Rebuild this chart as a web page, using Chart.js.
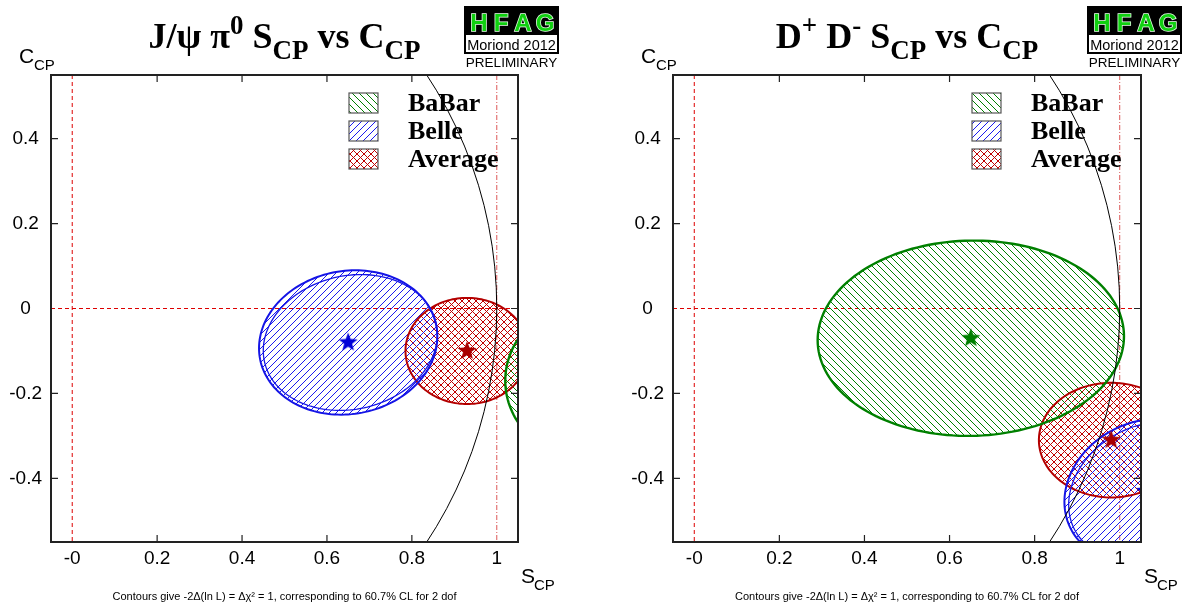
<!DOCTYPE html>
<html>
<head>
<meta charset="utf-8">
<script src="https://cdn.jsdelivr.net/npm/chart.js@4.4.0/dist/chart.umd.min.js"></script>
<style>
  html, body { margin: 0; padding: 0; background: #fff; }
  #wrap { position: relative; width: 1184px; height: 607px; }
  .panel { position: absolute; top: 0; width: 592px; height: 607px; }
</style>
</head>
<body>
<div id="wrap">
  <div class="panel" style="left:0"><canvas id="c1" width="592" height="607"></canvas></div>
  <div class="panel" style="left:592px"><canvas id="c2" width="592" height="607"></canvas></div>
</div>
<script>
// experiments, in legend order
const expNames = ["BaBar", "Belle", "Average"];

// J/psi pi0 : S, C, errors, correlation
const jpsiS    = [1.23, 0.65, 0.93];
const jpsiSErr = [0.21, 0.21, 0.145];
const jpsiC    = [-0.17, -0.08, -0.10];
const jpsiCErr = [0.19, 0.17, 0.125];
const jpsiRho  = [0.0, 0.08, 0.0];
// second (inner) Belle contour: S, C, SErr, CErr, rho
const jpsiBelleInner = [0.655, -0.08, 0.205, 0.16, 0.12];

// D+ D- : S, C, errors, correlation
const ddS    = [0.65, 1.06, 0.98];
const ddSErr = [0.36, 0.19, 0.17];
const ddC    = [-0.07, -0.43, -0.31];
const ddCErr = [0.23, 0.17, 0.135];
const ddRho  = [0.02, 0.15, 0.0];
const ddBelleInner = [1.065, -0.43, 0.185, 0.163, 0.2];

// axes
const xTicks = [0, 0.2, 0.4, 0.6, 0.8, 1];
const xTickLabels = ["-0", "0.2", "0.4", "0.6", "0.8", "1"];
const yTicks = [-0.4, -0.2, 0, 0.2, 0.4];
const yTickLabels = ["-0.4", "-0.2", "0", "0.2", "0.4"];
const refS = [0, 1];
const refC = [0];

const footNote = "Contours give -2\u0394(ln L) = \u0394\u03c7\u00b2 = 1, corresponding to 60.7% CL for 2 dof";
// title pieces: [text, 0 normal / -1 superscript / 1 subscript]
const title1 = [["J/\u03c8 \u03c0", 0], ["0", -1], [" S", 0], ["CP", 1], [" vs C", 0], ["CP", 1]];
const title2 = [["D", 0], ["+", -1], [" D", 0], ["-", -1], [" S", 0], ["CP", 1], [" vs C", 0], ["CP", 1]];

const lineColors = ["#008000", "#1414e6", "#b40000"];
const starColors = ["#008000", "#0000d8", "#a80000"];
const SANS = '"Liberation Sans", Arial, sans-serif';
const SERIF = '"Liberation Serif", "Times New Roman", serif';

// hatch patterns
function hatchCanvas(color, kind, s) {
  const c = document.createElement("canvas");
  c.width = c.height = s;
  const g = c.getContext("2d");
  g.strokeStyle = color;
  g.lineWidth = 1;
  const seg = (x1, y1, x2, y2) => { g.beginPath(); g.moveTo(x1, y1); g.lineTo(x2, y2); g.stroke(); };
  if (kind === "back" || kind === "cross")
    for (let k = -1; k <= 1; k++) seg(k * s - 1, -1, k * s + s + 1, s + 1);
  if (kind === "fwd" || kind === "cross")
    for (let k = 0; k <= 2; k++) seg(k * s + 1, -1, k * s - s - 1, s + 1);
  return c;
}
const hatchKinds = ["back", "fwd", "cross"];
const hatchColors = ["#008000", "#1a1aee", "#c00000"];
const hatchTiles = hatchKinds.map((k, i) => hatchCanvas(hatchColors[i], k, 7));

// filled star markers
function starImage(color, r) {
  const c = document.createElement("canvas");
  c.width = c.height = 2 * r + 2;
  const g = c.getContext("2d");
  g.fillStyle = color;
  g.beginPath();
  for (let i = 0; i < 10; i++) {
    const a = -Math.PI / 2 + i * Math.PI / 5;
    const rr = i % 2 ? r * 0.42 : r;
    const px = r + 1 + rr * Math.cos(a), py = r + 1 + rr * Math.sin(a);
    i ? g.lineTo(px, py) : g.moveTo(px, py);
  }
  g.closePath();
  g.fill();
  return c;
}
const starImgs = starColors.map(c => starImage(c, 10));

function ellipsePath(ctx, xs, ys, cx, cy, sx, sy, rho) {
  ctx.beginPath();
  const n = 160;
  for (let i = 0; i <= n; i++) {
    const t = i / n * 2 * Math.PI;
    const vx = cx + sx * Math.cos(t);
    const vy = cy + sy * (rho * Math.cos(t) + Math.sqrt(1 - rho * rho) * Math.sin(t));
    const px = xs.getPixelForValue(vx), py = ys.getPixelForValue(vy);
    i ? ctx.lineTo(px, py) : ctx.moveTo(px, py);
  }
  ctx.closePath();
}

function drawRich(ctx, parts, cx, base, size) {
  const fonts = { 0: `bold ${size}px ${SERIF}`, 1: `bold ${Math.round(size * 0.75)}px ${SERIF}`, "-1": `bold ${Math.round(size * 0.75)}px ${SERIF}` };
  const dys = { 0: 0, 1: size * 0.3, "-1": -size * 0.4 };
  let w = 0;
  parts.forEach(([t, k]) => { ctx.font = fonts[k]; w += ctx.measureText(t).width; });
  let x = cx - w / 2;
  ctx.textAlign = "left";
  ctx.textBaseline = "alphabetic";
  parts.forEach(([t, k]) => {
    ctx.font = fonts[k];
    ctx.fillText(t, x, base + dys[k]);
    x += ctx.measureText(t).width;
  });
}

function makePlugin(p) {
  return {
    id: "hfagPanel",
    beforeDatasetsDraw(chart) {
      const { ctx, chartArea: a, scales: { x, y } } = chart;
      const patterns = hatchTiles.map(t => ctx.createPattern(t, "repeat"));
      ctx.save();
      ctx.beginPath();
      ctx.rect(a.left, a.top, a.right - a.left, a.bottom - a.top);
      ctx.clip();
      // reference lines
      ctx.lineWidth = 1;
      refS.forEach(v => {
        ctx.strokeStyle = v === 0 ? "#dd0000" : "rgba(215,60,60,0.85)";
        ctx.setLineDash(v === 0 ? [4, 3] : [5, 2, 1, 2]);
        const px = x.getPixelForValue(v);
        ctx.beginPath(); ctx.moveTo(px, a.top); ctx.lineTo(px, a.bottom); ctx.stroke();
      });
      refC.forEach(v => {
        ctx.strokeStyle = "#dd0000";
        ctx.setLineDash([4, 3]);
        const py = y.getPixelForValue(v);
        ctx.beginPath(); ctx.moveTo(a.left, py); ctx.lineTo(a.right, py); ctx.stroke();
      });
      ctx.setLineDash([]);
      // hatched contours
      [2, 1, 0].forEach(i => {
        ellipsePath(ctx, x, y, p.S[i], p.C[i], p.SErr[i], p.CErr[i], p.rho[i]);
        ctx.fillStyle = patterns[i];
        ctx.fill();
      });
      [2, 1, 0].forEach(i => {
        ellipsePath(ctx, x, y, p.S[i], p.C[i], p.SErr[i], p.CErr[i], p.rho[i]);
        ctx.strokeStyle = lineColors[i];
        ctx.lineWidth = i === 0 ? 2.4 : 2;
        ctx.stroke();
      });
      const b = p.inner;
      ellipsePath(ctx, x, y, b[0], b[1], b[2], b[3], b[4]);
      ctx.strokeStyle = lineColors[1];
      ctx.lineWidth = 1.3;
      ctx.stroke();
      // physical boundary S^2 + C^2 = 1
      ctx.strokeStyle = "#000";
      ctx.lineWidth = 1;
      ctx.beginPath();
      ctx.ellipse(x.getPixelForValue(0), y.getPixelForValue(0),
        x.getPixelForValue(1) - x.getPixelForValue(0),
        y.getPixelForValue(0) - y.getPixelForValue(1), 0, 0, 2 * Math.PI);
      ctx.stroke();
      ctx.restore();
    },
    afterDraw(chart) {
      const { ctx, chartArea: a, scales: { x, y } } = chart;
      const midX = (a.left + a.right) / 2;
      ctx.save();
      // frame
      ctx.strokeStyle = "#222";
      ctx.lineWidth = 2;
      ctx.strokeRect(a.left, a.top, a.right - a.left, a.bottom - a.top);
      // inward ticks
      ctx.lineWidth = 1.2;
      ctx.beginPath();
      xTicks.forEach(v => {
        if (refS.includes(v)) return;
        const px = x.getPixelForValue(v);
        ctx.moveTo(px, a.bottom); ctx.lineTo(px, a.bottom - 7);
        ctx.moveTo(px, a.top); ctx.lineTo(px, a.top + 7);
      });
      yTicks.forEach(v => {
        const py = y.getPixelForValue(v);
        if (!refC.includes(v)) { ctx.moveTo(a.left, py); ctx.lineTo(a.left + 7, py); }
        ctx.moveTo(a.right, py); ctx.lineTo(a.right - 7, py);
      });
      ctx.stroke();
      // legend
      expNames.forEach((name, i) => {
        const top = a.top + 18 + i * 28;
        const lx = a.right - 169;
        ctx.fillStyle = "#fff";
        ctx.fillRect(lx, top, 29, 20);
        ctx.fillStyle = ctx.createPattern(hatchTiles[i], "repeat");
        ctx.fillRect(lx, top, 29, 20);
        ctx.strokeStyle = "#555";
        ctx.lineWidth = 1.2;
        ctx.strokeRect(lx, top, 29, 20);
        ctx.fillStyle = "#000";
        ctx.font = `bold 26px ${SERIF}`;
        ctx.textAlign = "left";
        ctx.textBaseline = "alphabetic";
        ctx.fillText(name, a.right - 110, top + 18);
      });
      // title
      ctx.fillStyle = "#000";
      drawRich(ctx, p.title, midX, 48, 36);
      // axis titles
      ctx.textAlign = "left";
      ctx.font = `21px ${SANS}`;
      ctx.fillText("C", a.left - 32, 63);
      ctx.font = `15px ${SANS}`;
      ctx.fillText("CP", a.left - 17, 70);
      ctx.font = `21px ${SANS}`;
      ctx.fillText("S", a.right + 3, 583);
      ctx.font = `15px ${SANS}`;
      ctx.fillText("CP", a.right + 16, 590);
      // footnote
      ctx.textAlign = "center";
      ctx.font = `11px ${SANS}`;
      ctx.fillText(footNote, midX, 600);
      // HFAG logo
      const lx = a.right - 53, lw = 93;
      ctx.fillStyle = "#000";
      ctx.fillRect(lx, 7, lw, 28);
      ctx.font = `bold 24px ${SANS}`;
      ctx.textAlign = "center";
      ctx.lineWidth = 1.5;
      ctx.strokeStyle = "#e8ffe8";
      ["H", "F", "A", "G"].forEach((ch, k) => {
        const cx = lx + 14 + k * 22;
        ctx.strokeText(ch, cx, 31);
        ctx.fillStyle = "#10d010";
        ctx.fillText(ch, cx, 31);
      });
      ctx.fillStyle = "#fff";
      ctx.fillRect(lx, 35, lw, 18);
      ctx.strokeStyle = "#000";
      ctx.lineWidth = 2;
      ctx.strokeRect(lx, 7, lw, 46);
      ctx.fillStyle = "#000";
      ctx.font = `14.5px ${SANS}`;
      ctx.fillText("Moriond 2012", lx + lw / 2, 50);
      ctx.font = `13.5px ${SANS}`;
      ctx.fillText("PRELIMINARY", lx + lw / 2, 67);
      ctx.restore();
    }
  };
}

function makeChart(id, p) {
  const tickFont = { family: SANS, size: 19 };
  return new Chart(document.getElementById(id), {
    type: "scatter",
    data: {
      datasets: expNames.map((n, i) => ({
        label: n,
        data: [{ x: p.S[i], y: p.C[i] }],
        pointStyle: starImgs[i],
        pointRadius: 10,
        pointHoverRadius: 10
      }))
    },
    options: {
      responsive: false,
      animation: false,
      events: [],
      layout: { padding: { left: p.padL, right: p.padR, top: 75, bottom: 25 } },
      plugins: { legend: { display: false }, tooltip: { enabled: false } },
      scales: {
        x: {
          type: "linear", min: -0.05, max: 1.05,
          grid: { display: false, drawTicks: false }, border: { display: false },
          afterBuildTicks: s => { s.ticks = xTicks.map(v => ({ value: v })); },
          afterFit: s => { s.height = 40; },
          ticks: {
            callback: (v, i) => xTickLabels[i],
            font: tickFont, color: "#000", padding: 5, maxRotation: 0, autoSkip: false
          }
        },
        y: {
          type: "linear", min: -0.55, max: 0.55,
          grid: { display: false, drawTicks: false }, border: { display: false },
          afterBuildTicks: s => { s.ticks = yTicks.map(v => ({ value: v })); },
          afterFit: s => { s.width = 51; },
          ticks: {
            callback: (v, i) => yTickLabels[i],
            font: tickFont, color: "#000", padding: 9, crossAlign: "center", autoSkip: false
          }
        }
      }
    },
    plugins: [makePlugin(p)]
  });
}

makeChart("c1", {
  S: jpsiS, SErr: jpsiSErr, C: jpsiC, CErr: jpsiCErr, rho: jpsiRho,
  inner: jpsiBelleInner, title: title1, padL: 0, padR: 74
});
makeChart("c2", {
  S: ddS, SErr: ddSErr, C: ddC, CErr: ddCErr, rho: ddRho,
  inner: ddBelleInner, title: title2, padL: 30, padR: 43
});
</script>
</body>
</html>
